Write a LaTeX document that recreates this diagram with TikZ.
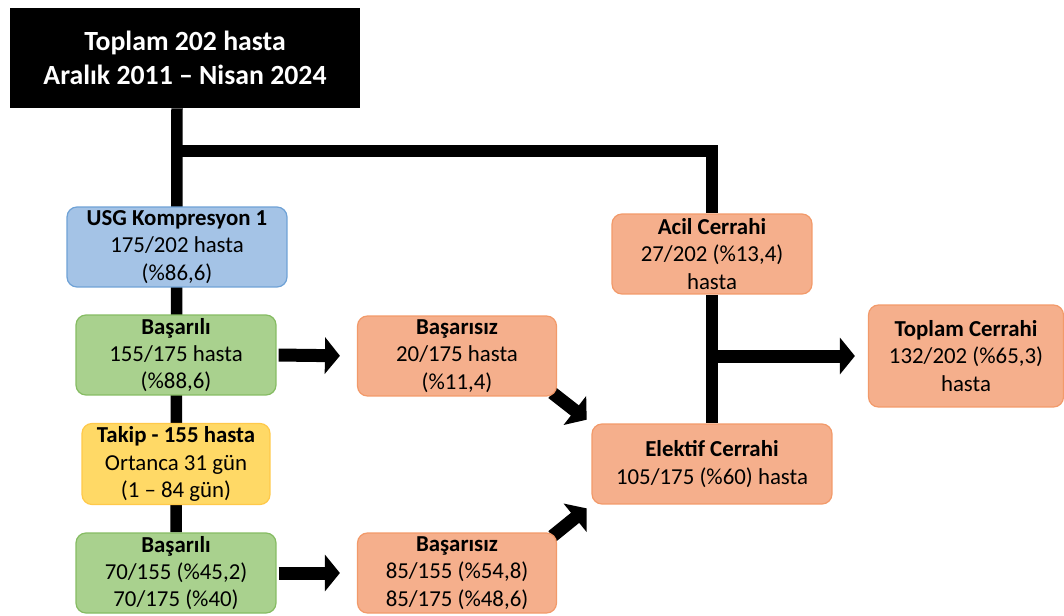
\documentclass[tikz,border=0pt]{standalone}
\usepackage{fontspec}
\setmainfont{Carlito}
\usetikzlibrary{arrows.meta,backgrounds}

\definecolor{mavi}{HTML}{A4C3E6}
\definecolor{mavicizgi}{HTML}{6FA2D6}
\definecolor{yesil}{HTML}{A9D18E}
\definecolor{yesilcizgi}{HTML}{86BC63}
\definecolor{sari}{HTML}{FFD966}
\definecolor{saricizgi}{HTML}{FFC94A}
\definecolor{somon}{HTML}{F5AF8C}
\definecolor{somoncizgi}{HTML}{F29A6A}

\begin{document}
\begin{tikzpicture}[x=0.02cm,y=-0.02cm,
  kutu/.style={rounded corners=0.2cm, align=center, inner sep=0pt, line width=0.7pt,
    minimum width=4cm, minimum height=1.6cm, font=\fontsize{13}{15.6}\selectfont},
  usgkutu/.style={kutu, draw=mavicizgi, fill=mavi},
  iyikutu/.style={kutu, draw=yesilcizgi, fill=yesil},
  takipkutu/.style={kutu, draw=saricizgi, fill=sari},
  cerrkutu/.style={kutu, draw=somoncizgi, fill=somon},
  kalin/.style={line width=0.23cm, black},
  ok/.style={line width=0.26cm, black, -{Triangle[length=0.3cm, width=0.72cm]}}]
\useasboundingbox (0,0) rectangle (1064,615);

% baslik
\node[fill=black, text=white, inner sep=0pt, minimum width=7cm, minimum height=2cm,
  align=center, font=\fontsize{15.8}{19}\selectfont\bfseries] (top) at (185,58)
  {Toplam 202 hasta\\Aralık 2011 -- Nisan 2024};

% sol kol
\node[usgkutu, minimum width=4.4cm] (usg) at (177,247) {\textbf{USG Kompresyon 1}\\175/202 hasta\\(\%86,6)};
\node[iyikutu] (bas1) at (176,355) {\textbf{Başarılı}\\155/175 hasta\\(\%88,6)};
\node[takipkutu, minimum width=3.76cm, minimum height=1.62cm] (takip) at (176,464) {\textbf{Takip - 155 hasta}\\Ortanca 31 gün\\(1 -- 84 gün)};
\node[iyikutu] (bas2) at (176,573) {\textbf{Başarılı}\\70/155 (\%45,2)\\70/175 (\%40)};

% basarisiz
\node[cerrkutu, minimum width=3.98cm] (fail1) at (457,356) {\textbf{Başarısız}\\20/175 hasta\\(\%11,4)};
\node[cerrkutu, minimum width=3.98cm] (fail2) at (457,573) {\textbf{Başarısız}\\85/155 (\%54,8)\\85/175 (\%48,6)};

% cerrahi
\node[cerrkutu] (acil) at (712,254) {\textbf{Acil Cerrahi}\\27/202 (\%13,4)\\hasta};
\node[cerrkutu, minimum width=4.8cm] (elek) at (712,464) {\textbf{Elektif Cerrahi}\\105/175 (\%60) hasta};
\node[cerrkutu, minimum width=3.9cm, minimum height=2.04cm] (toplam) at (966,356) {\textbf{Toplam Cerrahi}\\132/202 (\%65,3)\\hasta};

\begin{scope}[on background layer]
  \draw[kalin] (top.south -| usg.north) -- (bas2.north);
  \coordinate (ayrim) at (177,151);
  \draw[kalin] (ayrim) -| (acil.north);
  \draw[kalin] (acil.south) -- (elek.north);
  \coordinate (dal) at (acil.south |- toplam.west);
  \draw[ok, shorten >=0.26cm] (dal) -- (toplam.west);
  \draw[ok, shorten <=0.04cm, shorten >=0.34cm] (bas1.east) -- (fail1.west);
  \draw[ok, shorten <=0.04cm, shorten >=0.34cm] (bas2.east) -- (fail2.west);
  \draw[ok, shorten <=-0.12cm, shorten >=0.12cm] (fail1.south east) -- (elek.north west);
  \draw[ok, shorten <=-0.12cm, shorten >=0.12cm] (fail2.north east) -- (elek.south west);
\end{scope}
\end{tikzpicture}
\end{document}
